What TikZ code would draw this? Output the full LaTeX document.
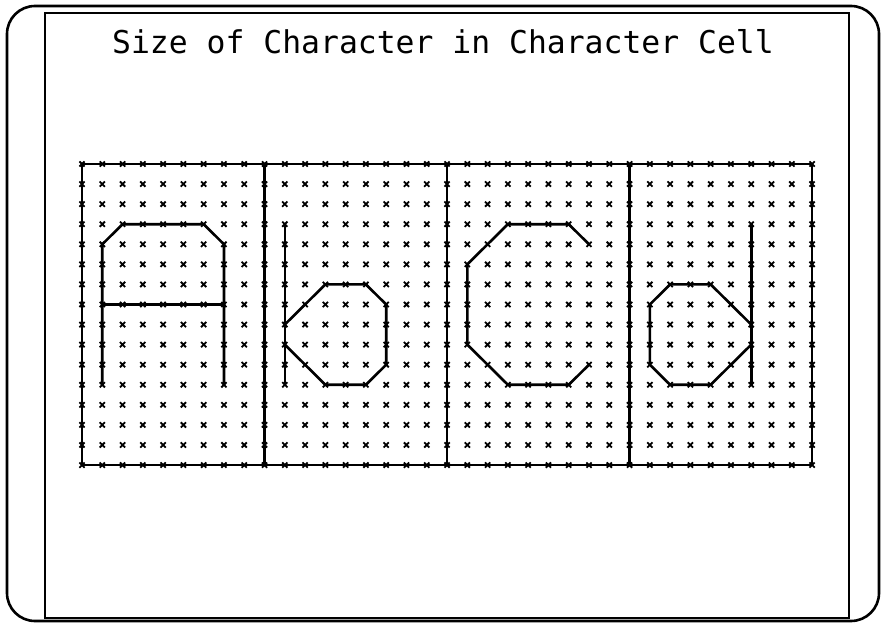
\documentclass[tikz,border=0pt]{standalone}
\usepackage{fontspec}
\newfontfamily\plotfont{DejaVu Sans Mono}
\tikzset{
  frameline/.style={line width=2.6pt, rounded corners=28pt},
  panel/.style={line width=2pt},
  cellline/.style={line width=2.6pt, line cap=round},
  glyph/.style={line width=2.6pt, line join=round, line cap=round},
  gridmark/.style={line width=1.8pt}
}

\begin{document}
\begin{tikzpicture}[x=1pt, y=-1pt]
  \useasboundingbox (0,0) rectangle (883,623);
  \draw[frameline] (7,6) rectangle (879,621);
  \draw[panel] (45,13) rectangle (849,618);
  \node[font=\plotfont\fontsize{31.4}{36}\selectfont, anchor=base, inner sep=0pt] (title) at (443,54) {Size of Character in Character Cell};
  \begin{scope}[shift={(82pt,-164pt)}, x=20.28pt, y=-20.07pt]
    % cell outlines
    \draw[cellline] (0,0) rectangle (36,15);
    \foreach \k in {9,18,27}
      \draw[cellline] (\k,0) -- (\k,15);
    % marks at every grid point
    \foreach \i in {0,...,36}
      \foreach \j in {0,...,15}
        \draw[gridmark] (\i,\j) +(-2.6pt,-2.6pt) -- +(2.6pt,2.6pt) +(-2.6pt,2.6pt) -- +(2.6pt,-2.6pt);
    % A
    \draw[glyph] (1,11) -- (1,4) -- (2,3) -- (6,3) -- (7,4) -- (7,11);
    \draw[glyph] (1,7) -- (7,7);
    % b
    \begin{scope}[shift={(9,0)}]
      \draw[glyph] (1,3) -- (1,11);
      \draw[glyph] (1,8) -- (3,6) -- (5,6) -- (6,7) -- (6,10) -- (5,11) -- (3,11) -- (1,9);
    \end{scope}
    % C
    \begin{scope}[shift={(18,0)}]
      \draw[glyph] (7,4) -- (6,3) -- (3,3) -- (1,5) -- (1,9) -- (3,11) -- (6,11) -- (7,10);
    \end{scope}
    % d
    \begin{scope}[shift={(27,0)}]
      \draw[glyph] (6,3) -- (6,11);
      \draw[glyph] (6,8) -- (4,6) -- (2,6) -- (1,7) -- (1,10) -- (2,11) -- (4,11) -- (6,9);
    \end{scope}
  \end{scope}
\end{tikzpicture}
\end{document}
